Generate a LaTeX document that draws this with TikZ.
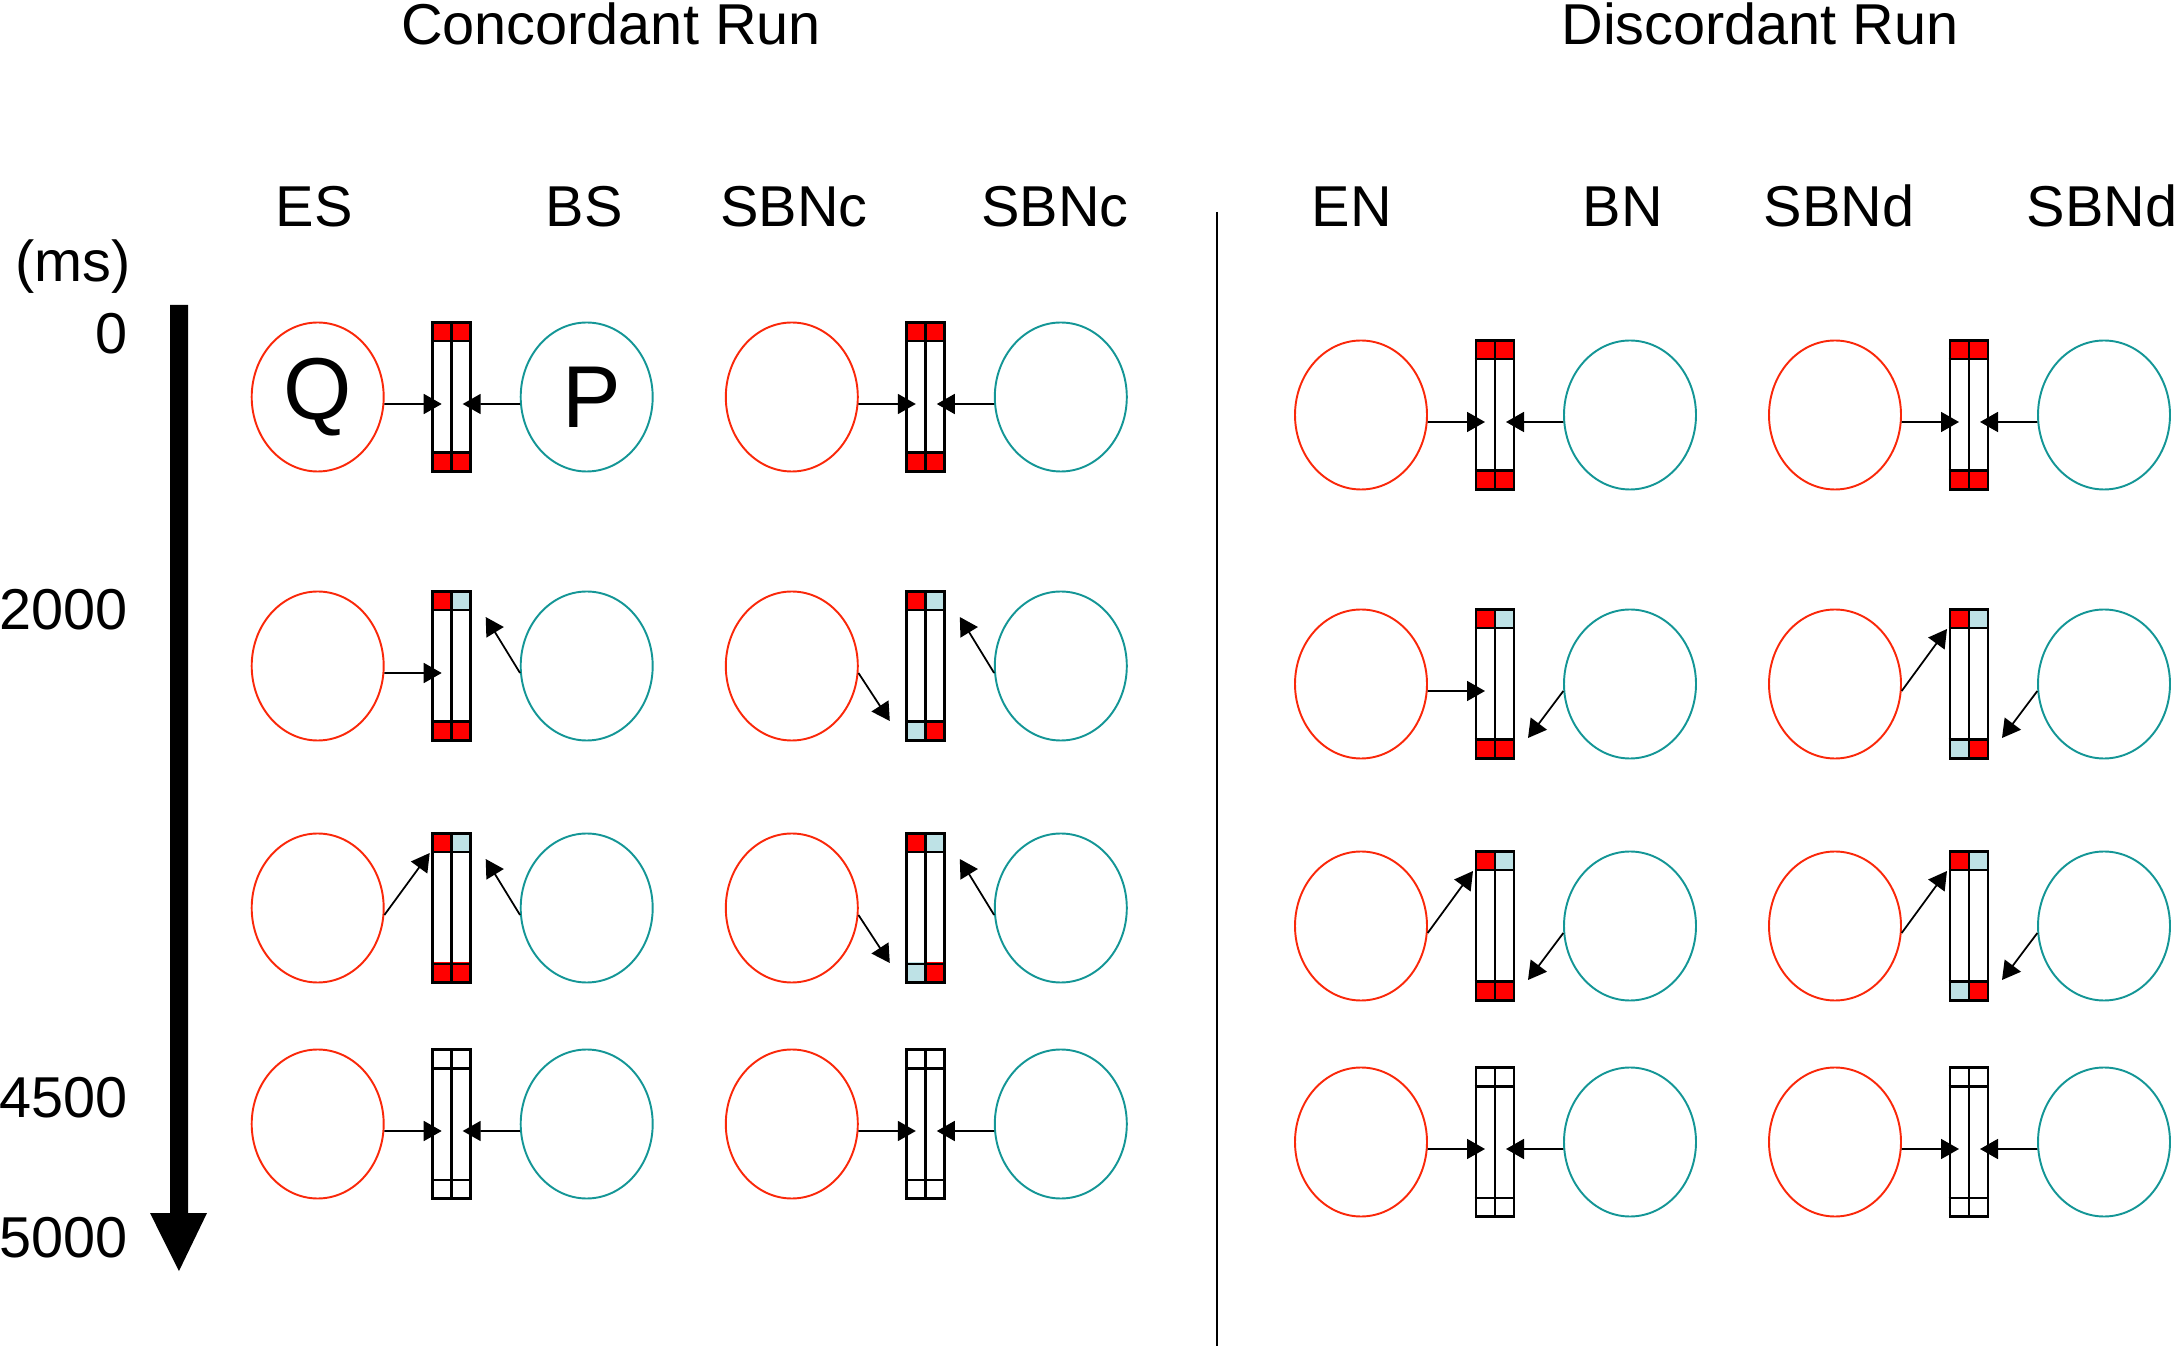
\documentclass[tikz,border=0pt]{standalone}
\usepackage{fontspec}
\setmainfont{Liberation Sans}
\usepackage{tikz}
\usetikzlibrary{shapes.geometric}
\usetikzlibrary{arrows.meta}
\definecolor{ellred}{RGB}{250, 40, 10}
\definecolor{ellteal}{RGB}{20, 150, 150}
\definecolor{cellred}{RGB}{255, 0, 0}
\definecolor{cellblue}{RGB}{190, 226, 230}

\begin{document}
\begin{tikzpicture}[
    font=\fontsize{16.4}{20}\selectfont,
    redell/.style={ellipse, draw=ellred, line width=0.55pt, minimum width=1.32cm, minimum height=1.49cm, inner sep=0pt},
    tealell/.style={redell, draw=ellteal},
    barbox/.style={rectangle, draw, line width=0.75pt, minimum width=0.38cm, minimum height=1.49cm, inner sep=0pt},
    feed/.style={line width=0.5pt, -{Triangle[length=1.8mm, width=2mm]}},
    collabel/.style={anchor=base},
    timelabel/.style={anchor=base east, inner sep=0pt}
]
    \useasboundingbox (0,0) rectangle (21.76,-13.46);

    % Titles and column labels
    \node[collabel] (concord) at (6.11,-0.45) {Concordant Run};
    \node[collabel] (discord) at (17.60,-0.45) {Discordant Run};
    \node[collabel] (es) at (3.14,-2.27) {ES};
    \node[collabel] (bs) at (5.84,-2.27) {BS};
    \node[collabel] (sbnc1) at (7.94,-2.27) {SBNc};
    \node[collabel] (sbnc2) at (10.55,-2.27) {SBNc};
    \node[collabel] (en) at (13.52,-2.27) {EN};
    \node[collabel] (bn) at (16.23,-2.27) {BN};
    \node[collabel] (sbnd1) at (18.39,-2.27) {SBNd};
    \node[collabel] (sbnd2) at (21.02,-2.27) {SBNd};

    % Time axis
    \node[collabel] (unit) at (0.73,-2.82) {(ms)};
    \node[timelabel] (t0) at (1.28,-3.54) {0};
    \node[timelabel] (t2000) at (1.28,-6.30) {2000};
    \node[timelabel] (t4500) at (1.28,-11.17) {4500};
    \node[timelabel] (t5000) at (1.28,-12.57) {5000};
    \fill (1.70,-3.05) -- (1.88,-3.05) -- (1.88,-12.13) -- (2.07,-12.13) -- (1.79,-12.71) -- (1.50,-12.13) -- (1.70,-12.13) -- cycle;

    % Divider between the two runs
    \draw[line width=0.45pt] (12.17,-2.12) -- (12.17,-13.46);

    % Panels: bar centre, cell colours (tl/tr/bl/br), arrow ends
    \foreach \x/\y/\tl/\tr/\bl/\br/\la/\ra [count=\i] in {
        4.517/-3.97/cellred/cellred/cellred/cellred/h/h,
        9.258/-3.97/cellred/cellred/cellred/cellred/h/h,
        4.517/-6.66/cellred/cellblue/cellred/cellred/h/u,
        9.258/-6.66/cellred/cellblue/cellblue/cellred/d/u,
        4.517/-9.08/cellred/cellblue/cellred/cellred/u/u,
        9.258/-9.08/cellred/cellblue/cellblue/cellred/d/u,
        4.517/-11.24/white/white/white/white/h/h,
        9.258/-11.24/white/white/white/white/h/h,
        14.95/-4.15/cellred/cellred/cellred/cellred/h/h,
        19.69/-4.15/cellred/cellred/cellred/cellred/h/h,
        14.95/-6.84/cellred/cellblue/cellred/cellred/h/d,
        19.69/-6.84/cellred/cellblue/cellblue/cellred/u/d,
        14.95/-9.26/cellred/cellblue/cellred/cellred/u/d,
        19.69/-9.26/cellred/cellblue/cellblue/cellred/u/d,
        14.95/-11.42/white/white/white/white/h/h,
        19.69/-11.42/white/white/white/white/h/h}{
        % cells
        \fill[\tl] ({\x-0.19},{\y+0.745}) rectangle (\x,{\y+0.545});
        \fill[\tr] (\x,{\y+0.745}) rectangle ({\x+0.19},{\y+0.545});
        \fill[\bl] ({\x-0.19},{\y-0.745}) rectangle (\x,{\y-0.545});
        \fill[\br] (\x,{\y-0.745}) rectangle ({\x+0.19},{\y-0.545});
        % bar
        \node[barbox] (b\i) at (\x,\y) {};
        \draw[line width=0.75pt] (b\i.north) -- (b\i.south);
        \draw[line width=0.75pt] ([yshift=-2mm]b\i.north west) -- ([yshift=-2mm]b\i.north east);
        \draw[line width=0.75pt] ([yshift=2mm]b\i.south west) -- ([yshift=2mm]b\i.south east);
        % ellipses
        \node[redell] (r\i) at ({\x-1.34},\y) {};
        \node[tealell] (t\i) at ({\x+1.35},\y) {};
        % arrow ends
        \coordinate (b\i-lh) at ([shift={(-0.10,-0.07)}]b\i.center);
        \coordinate (b\i-lu) at ([shift={(-0.22,0.55)}]b\i.center);
        \coordinate (b\i-ld) at ([shift={(-0.36,-0.55)}]b\i.center);
        \coordinate (b\i-rh) at ([shift={(0.11,-0.07)}]b\i.center);
        \coordinate (b\i-ru) at ([shift={(0.34,0.49)}]b\i.center);
        \coordinate (b\i-rd) at ([shift={(0.33,-0.54)}]b\i.center);
        \draw[feed] (r\i.-6) -- (b\i-l\la);
        \draw[feed] (t\i.186) -- (b\i-r\ra);
    }

    % Letters in the first pair
    \node[font=\fontsize{25}{30}\selectfont] (q) at (r1) {Q};
    \node[font=\fontsize{25}{30}\selectfont, xshift=0.5mm] (p) at (t1) {P};
\end{tikzpicture}
\end{document}
